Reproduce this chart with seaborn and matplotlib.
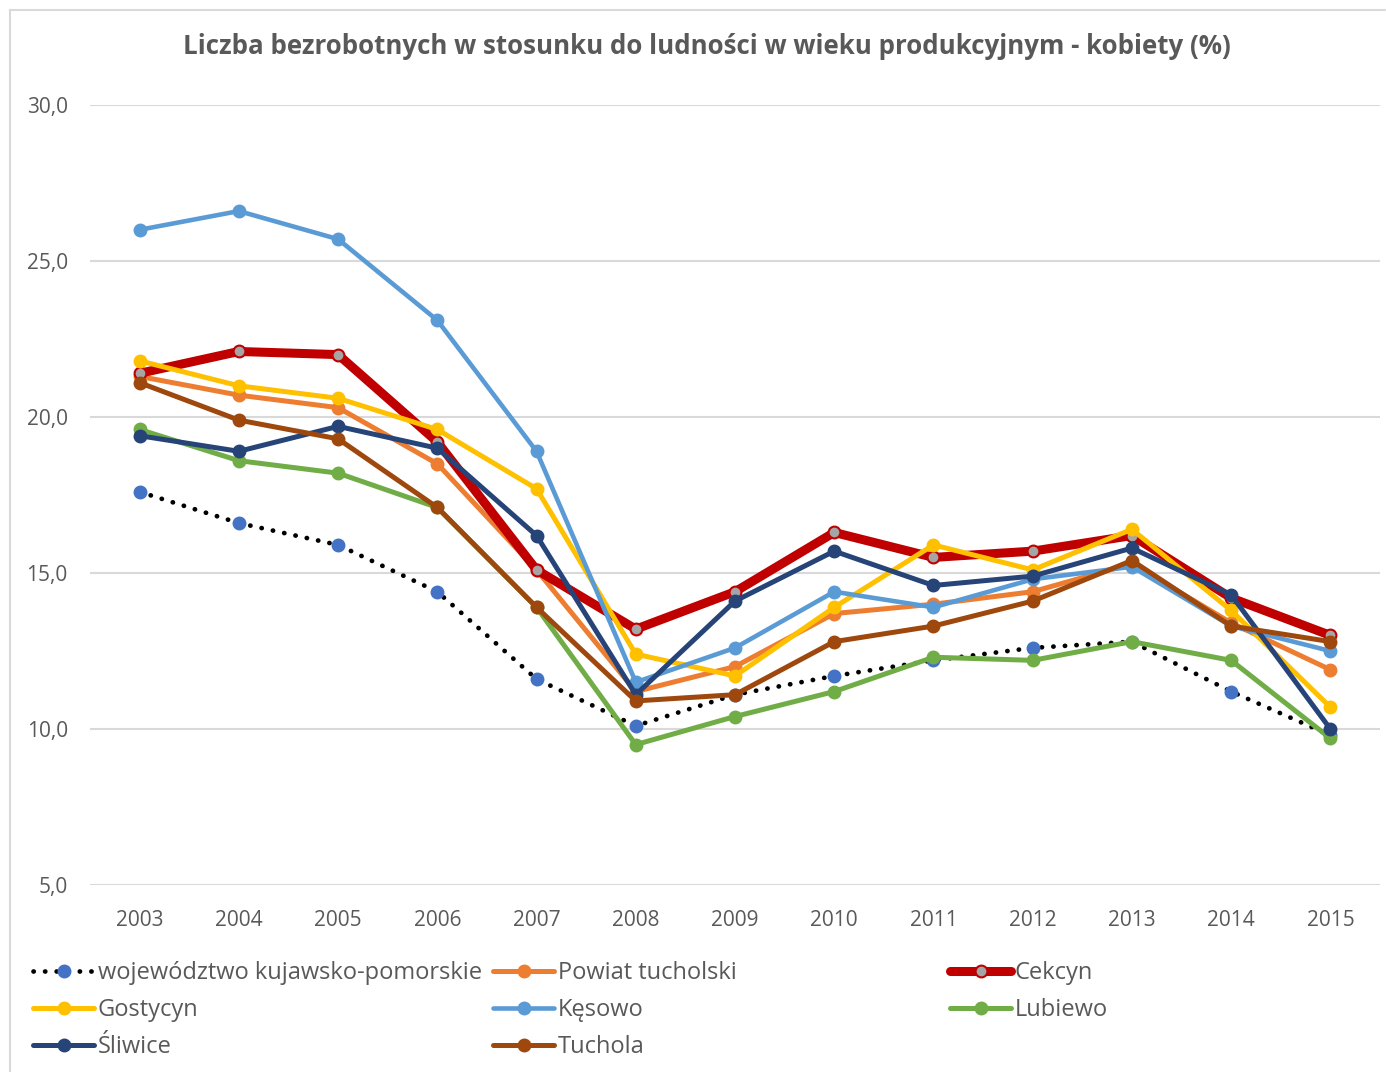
import matplotlib
matplotlib.use("Agg")
import matplotlib.pyplot as plt
from matplotlib.lines import Line2D
import seaborn as sns
import pandas as pd

# values (%)
years = [2003, 2004, 2005, 2006, 2007, 2008, 2009, 2010, 2011, 2012, 2013, 2014, 2015]
wojewodztwo = [17.6, 16.6, 15.9, 14.4, 11.6, 10.1, 11.1, 11.7, 12.2, 12.6, 12.8, 11.2, 9.8]
powiat = [21.3, 20.7, 20.3, 18.5, 15.1, 11.2, 12.0, 13.7, 14.0, 14.4, 15.3, 13.4, 11.9]
cekcyn = [21.4, 22.1, 22.0, 19.2, 15.1, 13.2, 14.4, 16.3, 15.5, 15.7, 16.2, 14.2, 13.0]
gostycyn = [21.8, 21.0, 20.6, 19.6, 17.7, 12.4, 11.7, 13.9, 15.9, 15.1, 16.4, 13.8, 10.7]
kesowo = [26.0, 26.6, 25.7, 23.1, 18.9, 11.5, 12.6, 14.4, 13.9, 14.8, 15.2, 13.3, 12.5]
lubiewo = [19.6, 18.6, 18.2, 17.1, 13.9, 9.5, 10.4, 11.2, 12.3, 12.2, 12.8, 12.2, 9.7]
sliwice = [19.4, 18.9, 19.7, 19.0, 16.2, 11.1, 14.1, 15.7, 14.6, 14.9, 15.8, 14.3, 10.0]
tuchola = [21.1, 19.9, 19.3, 17.1, 13.9, 10.9, 11.1, 12.8, 13.3, 14.1, 15.4, 13.3, 12.8]

names = ["województwo kujawsko-pomorskie", "Powiat tucholski", "Cekcyn", "Gostycyn",
         "Kęsowo", "Lubiewo", "Śliwice", "Tuchola"]
series = [wojewodztwo, powiat, cekcyn, gostycyn, kesowo, lubiewo, sliwice, tuchola]

# line styles per series: color, line width, marker face, marker edge, linestyle
styles = {
    "województwo kujawsko-pomorskie": dict(color="black", lw=3.4, mfc="#4472C4", mec="#4472C4",
                                           ls=(0, (0.05, 2.4))),
    "Powiat tucholski": dict(color="#ED7D31", lw=3.6, mfc="#ED7D31", mec="#ED7D31", ls="-"),
    "Cekcyn": dict(color="#C00000", lw=6.5, mfc="#A5A5A5", mec="#C00000", ls="-"),
    "Gostycyn": dict(color="#FFC000", lw=3.6, mfc="#FFC000", mec="#FFC000", ls="-"),
    "Kęsowo": dict(color="#5B9BD5", lw=3.3, mfc="#5B9BD5", mec="#5B9BD5", ls="-"),
    "Lubiewo": dict(color="#70AD47", lw=3.6, mfc="#70AD47", mec="#70AD47", ls="-"),
    "Śliwice": dict(color="#264478", lw=3.6, mfc="#264478", mec="#264478", ls="-"),
    "Tuchola": dict(color="#9E480E", lw=3.6, mfc="#9E480E", mec="#9E480E", ls="-"),
}

sns.set_style("white")
plt.rcParams["font.family"] = ["Open Sans", "DejaVu Sans"]
grey = "#595959"

fig = plt.figure(figsize=(13.86, 10.72), dpi=100)
ax = fig.add_axes([90 / 1386, 187 / 1072, 1290 / 1386, 780 / 1072])

handles = []
for name, vals in zip(names, series):
    st = styles[name]
    df = pd.DataFrame({"rok": years, "wartosc": vals})
    sns.lineplot(data=df, x="rok", y="wartosc", ax=ax, color=st["color"], linewidth=st["lw"],
                 linestyle=st["ls"], dash_capstyle="round", marker="o", markersize=8.5,
                 markerfacecolor=st["mfc"], markeredgecolor=st["mec"], markeredgewidth=1.5,
                 zorder=3)
    handles.append(Line2D([], [], color=st["color"], lw=st["lw"], linestyle=st["ls"],
                          dash_capstyle="round", marker="o", markersize=8.5,
                          markerfacecolor=st["mfc"], markeredgecolor=st["mec"],
                          markeredgewidth=1.5, markevery=[1]))

ax.set_xlim(2002.5, 2015.5)
ax.set_ylim(5, 30)
ax.set_xticks(years)
ax.set_xticklabels([str(y) for y in years])
ax.set_yticks([5, 10, 15, 20, 25, 30])
ax.set_yticklabels(["5,0", "10,0", "15,0", "20,0", "25,0", "30,0"])
ax.set_xlabel("")
ax.set_ylabel("")
ax.grid(axis="y", color="#D9D9D9", linewidth=1.5, zorder=0)
ax.grid(axis="x", visible=False)
for sp in ax.spines.values():
    sp.set_visible(False)
ax.tick_params(axis="both", length=0, labelsize=15, labelcolor=grey)
ax.tick_params(axis="y", pad=16)
ax.tick_params(axis="x", pad=18)

fig.text(707 / 1386, 1 - 47 / 1072, "Liczba bezrobotnych w stosunku do ludności w wieku produkcyjnym - kobiety (%)",
         ha="center", va="center", fontsize=18.6, fontweight="bold", color=grey)

# legend: three columns placed like the Excel layout
cols = [[0, 3, 6], [1, 4, 7], [2, 5]]
xpos = [33 / 1386, 493 / 1386, 950 / 1386]
for c, xs in zip(cols, xpos):
    leg = fig.legend([handles[i] for i in c], [names[i] for i in c], loc="upper left",
                     bbox_to_anchor=(xs, 1 - 961 / 1072), frameon=False, fontsize=17,
                     handlelength=2.6, handletextpad=0.15, labelspacing=0.55,
                     borderaxespad=0, borderpad=0)
    for t in leg.get_texts():
        t.set_color(grey)

# chart area border
fig.add_artist(Line2D([10 / 1386, 10 / 1386], [0, 1 - 10 / 1072], color="#D9D9D9", lw=1.5))
fig.add_artist(Line2D([10 / 1386, 1385 / 1386], [1 - 10 / 1072, 1 - 10 / 1072], color="#D9D9D9", lw=1.5))

if ax.get_legend() is not None:
    ax.get_legend().remove()

fig.savefig("out.png", dpi=100, facecolor="white")
